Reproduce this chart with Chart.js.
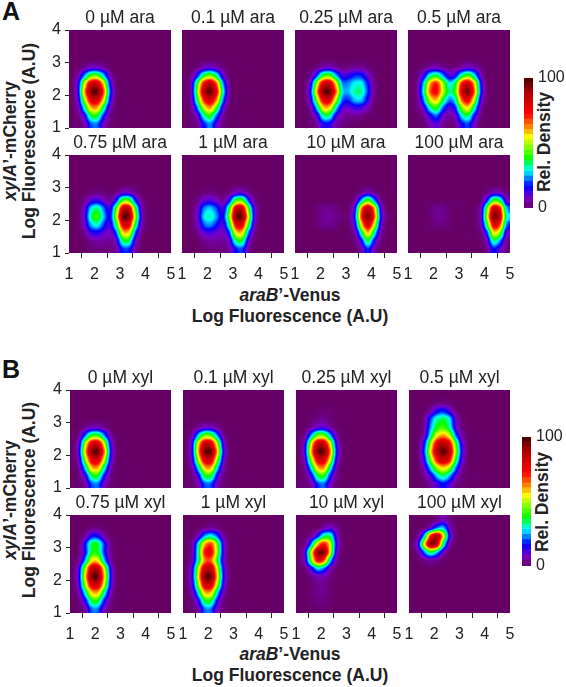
<!DOCTYPE html>
<html>
<head>
<meta charset="utf-8">
<title>Density maps</title>
<script src="https://cdn.jsdelivr.net/npm/chart.js@4"></script>
<style>
  html, body { margin: 0; padding: 0; background: #fff; overflow: hidden; }
  #page { position: relative; width: 566px; height: 687px; overflow: hidden; font-family: "Liberation Sans", Arial, sans-serif; color: #222; }
  canvas { position: absolute; }
  .lab { position: absolute; font-weight: bold; font-size: 17.5px; white-space: nowrap; transform: translate(-50%, -50%); line-height: 1; }
  .rot { transform: translate(-50%, -50%) rotate(-90deg); }
  .letter { position: absolute; left: 2px; font-weight: bold; font-size: 25px; line-height: 1; color: #111; }
</style>
</head>
<body>
<div id="page">
  <div class="letter" style="top:-1px">A</div>
  <div class="letter" style="top:357px">B</div>

  <div class="lab rot" style="left:11px;top:141px"><i>xylA</i>’-mCherry</div>
  <div class="lab rot" style="left:30px;top:141px">Log Fluorescence (A.U)</div>
  <div class="lab" style="left:290px;top:296px"><i>araB</i>’-Venus</div>
  <div class="lab" style="left:290px;top:317px">Log Fluorescence (A.U)</div>
  <div class="lab rot" style="left:545px;top:142px">Rel. Density</div>

  <div class="lab rot" style="left:11px;top:500px"><i>xylA</i>’-mCherry</div>
  <div class="lab rot" style="left:30px;top:500px">Log Fluorescence (A.U)</div>
  <div class="lab" style="left:290px;top:655px"><i>araB</i>’-Venus</div>
  <div class="lab" style="left:290px;top:676px">Log Fluorescence (A.U)</div>
  <div class="lab rot" style="left:543px;top:502px">Rel. Density</div>
</div>

<script>
// Cell centres along araB'-Venus and lower edges along xylA'-mCherry (top row first)
const xBins = [1.125, 1.375, 1.625, 1.875, 2.125, 2.375, 2.625, 2.875, 3.125, 3.375, 3.625, 3.875, 4.125, 4.375, 4.625, 4.875];
const yBins = [3.75, 3.5, 3.25, 3, 2.75, 2.5, 2.25, 2, 1.75, 1.5, 1.25, 1];
const xTicks = [1, 2, 3, 4, 5];
const araTitles = ['0 µM ara', '0.1 µM ara', '0.25 µM ara', '0.5 µM ara', '0.75 µM ara', '1 µM ara', '10 µM ara', '100 µM ara'];
const xylTitles = ['0 µM xyl', '0.1 µM xyl', '0.25 µM xyl', '0.5 µM xyl', '0.75 µM xyl', '1 µM xyl', '10 µM xyl', '100 µM xyl'];

// Relative density, rows top to bottom, missing trailing cells are 0
const ara0 = [[], [], [], [],
  [0,0,2,6,6,3],
  [0,3,22,42,44,26,4],
  [0,9,52,85,88,58,12],
  [0,9,62,97,100,72,16,1],
  [0,6,48,80,84,56,12],
  [0,3,28,60,62,32,5],
  [0,1,10,36,38,14,2],
  [1,1,3,20,22,6,1]];
const ara01 = [[], [], [], [],
  [0,0,1,5,7,5,1],
  [0,1,14,38,46,32,7],
  [0,4,40,78,92,68,22,1],
  [0,3,46,90,100,80,30,1],
  [0,2,36,72,86,64,20,1],
  [0,1,20,52,64,40,8],
  [0,1,6,30,40,18,3],
  [1,1,2,16,24,9,2]];
const ara025 = [[], [], [], [],
  [0,0,0,1,5,6,3,1,2,3,3,1],
  [0,0,2,16,40,44,24,10,13,18,18,8,1],
  [0,0,8,50,85,88,56,20,23,29,30,16,2],
  [0,0,12,62,98,100,68,24,25,33,34,19,2],
  [0,0,8,46,80,82,48,18,17,27,27,13,1],
  [0,0,3,24,58,58,26,9,8,12,11,5],
  [0,0,1,8,32,32,10,4,3,3,2],
  [0,0,1,3,14,14,4,2,1]];
const ara05 = [[], [], [], [],
  [0,0,1,4,5,3,1,1,4,7,5,1],
  [0,1,10,30,38,24,8,12,32,44,28,5],
  [0,2,24,62,76,50,26,34,76,88,60,12],
  [0,2,28,68,78,52,30,38,84,100,68,14],
  [0,1,20,52,62,38,20,26,68,80,50,8],
  [0,1,8,30,42,20,8,14,46,58,30,3],
  [0,0,2,12,22,8,3,6,28,36,12,1],
  [0,0,1,5,10,3,1,2,14,20,6]];
const ara075 = [[], [], [], [],
  [0,0,0,1,2,1,0,1,6,6,2],
  [0,0,2,10,13,7,2,14,44,44,14,2],
  [0,0,7,29,36,22,8,40,88,88,38,4],
  [0,0,8,35,44,26,10,48,100,98,48,5],
  [0,0,7,25,31,18,8,34,80,80,34,3],
  [0,0,2,12,14,9,5,16,58,58,16,1],
  [0,0,0,3,4,4,3,6,36,36,6],
  [0,0,0,1,2,2,2,3,18,18,3]];
const ara1 = [[], [], [], [],
  [0,0,0,1,2,1,0,1,6,7,2],
  [0,0,2,9,11,7,2,12,42,46,16,2],
  [0,0,6,24,28,20,8,36,86,90,42,5],
  [0,0,7,29,32,24,10,44,98,100,52,6],
  [0,0,5,21,24,16,8,30,78,82,38,3],
  [0,0,2,9,11,8,5,14,56,60,18,1],
  [0,0,0,3,4,4,3,6,34,38,7],
  [0,0,0,1,2,2,2,3,16,20,3]];
const ara10 = [[], [], [], [],
  [0,0,0,0,0,0,0,0,0,0,2,6,2],
  [0,0,0,0,0,0,0,0,0,2,24,46,22,1],
  [0,0,0,1,3,3,2,0,0,10,68,92,66,8],
  [0,0,0,2,3,4,3,1,1,14,74,100,72,12,1],
  [0,0,0,1,3,3,2,0,0,9,56,86,54,7],
  [0,0,0,0,0,0,0,0,0,3,30,64,30,3],
  [0,0,0,0,0,0,0,0,0,1,12,40,12,1],
  [0,0,0,0,0,0,0,0,0,0,3,20,4]];
const ara100 = [[], [], [], [],
  [0,0,0,0,0,0,0,0,0,0,0,0,1,6,5,1],
  [0,0,0,0,0,0,0,0,0,0,0,0,14,44,36,6],
  [0,0,0,1,3,3,1,0,0,0,0,3,44,90,78,22],
  [0,0,0,1,3,3,1,0,0,0,0,5,50,100,88,28],
  [0,0,0,1,2,2,1,0,0,0,0,3,36,82,70,18],
  [0,0,0,0,0,0,0,0,0,0,0,1,14,60,48,6],
  [0,0,0,0,0,0,0,0,0,0,0,0,5,36,22,2],
  [0,0,0,0,0,0,0,0,0,0,0,0,2,18,8,1]];

const xyl0 = [[], [], [], [],
  [0,0,2,5,5,3],
  [0,2,20,40,42,22,3],
  [0,7,50,84,86,54,9],
  [0,8,60,97,100,68,13],
  [0,5,46,80,84,52,9],
  [0,2,26,60,62,30,4],
  [0,1,9,36,38,13,2],
  [1,1,3,20,22,6,1]];
const xyl01 = [[], [], [], [],
  [0,0,3,7,6,3],
  [0,3,26,46,44,22,2],
  [0,9,56,88,86,50,7],
  [0,9,62,98,100,62,10],
  [0,6,48,82,84,46,6],
  [0,3,26,60,62,26,3],
  [0,1,10,38,38,11,1],
  [1,1,3,20,20,5,1]];
const xyl025 = [[], [],
  [0,0,0,1,1,1],
  [0,0,1,2,3,1],
  [0,0,3,8,9,4],
  [0,2,24,46,46,24,3],
  [0,8,54,88,88,54,9],
  [0,9,62,98,100,66,13],
  [0,6,46,80,84,52,9],
  [0,3,26,60,64,30,4],
  [0,1,10,36,40,14,2],
  [1,1,3,18,22,6,1]];
const xyl05 = [[],
  [0,0,0,0,1,1,1],
  [0,0,0,4,14,18,10,1],
  [0,0,1,20,33,36,30,6,1],
  [0,0,2,24,38,42,32,8,1],
  [0,0,4,30,54,62,52,18,3],
  [0,0,14,48,82,90,80,40,8],
  [0,0,17,56,90,100,90,46,11],
  [0,0,12,44,74,86,76,36,7],
  [0,0,6,26,48,58,48,20,3],
  [0,0,2,10,26,34,24,7,1],
  [0,0,1,3,10,16,10,2,1]];
const xyl075 = [[],
  [0,0,0,1,1],
  [0,0,3,16,16,4],
  [0,0,16,38,38,18,2],
  [0,0,14,38,38,16,2],
  [0,2,22,56,56,24,3],
  [0,9,50,88,88,54,10],
  [0,10,56,98,100,60,12],
  [0,8,48,82,84,52,9],
  [0,4,28,58,60,30,5],
  [0,1,12,38,38,14,2],
  [0,1,3,22,22,5,1]];
const xyl1 = [[],
  [0,0,0,1,3,2],
  [0,0,5,24,30,20,3],
  [0,2,28,62,72,46,8],
  [0,2,30,76,80,48,8],
  [0,3,30,64,66,38,6],
  [0,8,50,86,88,52,10],
  [0,9,54,98,100,58,12],
  [0,7,44,84,84,48,9],
  [0,3,26,60,60,26,4],
  [0,1,11,38,38,12,1],
  [0,1,3,22,22,5,1]];
const xyl10 = [[],
  [0,0,0,0,4,8,3],
  [0,0,2,12,34,36,8],
  [0,2,20,60,76,54,10],
  [0,8,52,96,100,54,6],
  [0,6,46,80,70,24,2],
  [0,1,10,28,20,5],
  [0,0,2,5,5,2],
  [0,0,1,3,3,1],
  [0,0,1,3,3,1],
  [0,0,1,2,2,1],
  [0,0,0,1,1]];
const xyl100 = [
  [0,0,0,0,2,6,2],
  [0,0,0,4,20,28,6],
  [0,2,22,76,94,60,10],
  [0,8,56,100,90,32,3],
  [0,2,20,38,24,6],
  [0,0,2,4,2],
  [], [], [], [], [], []];

const araPanels = [ara0, ara01, ara025, ara05, ara075, ara1, ara10, ara100];
const xylPanels = [xyl0, xyl01, xyl025, xyl05, xyl075, xyl1, xyl10, xyl100];

// Colour bar levels and colormap
const barLevels = [0, 4, 8, 12, 16, 20, 24, 28, 32, 36, 40, 44, 48, 52, 56, 60, 64, 68, 72, 76, 80, 84, 88, 92, 96];
const mapStops = [0, 7, 16, 28, 37, 54, 62, 72, 88, 100];
const mapColors = ['#660066', '#7a00c8', '#0000ff', '#00ffff', '#00ff00', '#ffff00', '#ff8000', '#ff0000', '#b00000', '#400000'];

const PAD_X = 36, PAD_TOP = 21, PAD_BOTTOM = 30;

function hexToRgb(hex) {
    return [1, 3, 5].map(i => parseInt(hex.slice(i, i + 2), 16));
}

// Lookup table: grey level of a cell -> colormap colour
const lut = [];
for (let g = 0; g < 256; g++) {
    const v = g / 2.55;
    let k = 0;
    while (k < mapStops.length - 2 && v > mapStops[k + 1]) k++;
    const t = Math.min(1, (v - mapStops[k]) / (mapStops[k + 1] - mapStops[k]));
    const a = hexToRgb(mapColors[k]), b = hexToRgb(mapColors[k + 1]);
    lut.push(a.map((c, i) => Math.round(c + (b[i] - c) * t)));
}

function grey(v) {
    const g = Math.round(v * 2.55);
    return `rgb(${g},${g},${g})`;
}

// Cells are drawn as grey levels, then smoothed and coloured inside the plot area
const densityPaint = {
    id: 'densityPaint',
    afterDatasetsDraw(chart, args, opts) {
        const area = chart.chartArea;
        const left = Math.round(area.left), top = Math.round(area.top);
        const w = Math.round(area.right - area.left), h = Math.round(area.bottom - area.top);
        const off = document.createElement('canvas');
        off.width = w;
        off.height = h;
        const octx = off.getContext('2d', { willReadFrequently: true });
        octx.drawImage(chart.canvas, left, top, w, h, 0, 0, w, h);
        if (opts.blur) {
            octx.filter = `blur(${opts.blur}px)`;
            octx.drawImage(chart.canvas, left, top, w, h, 0, 0, w, h);
            octx.filter = 'none';
        }
        const img = octx.getImageData(0, 0, w, h);
        for (let i = 0; i < img.data.length; i += 4) {
            const c = lut[img.data[i]];
            img.data[i] = c[0];
            img.data[i + 1] = c[1];
            img.data[i + 2] = c[2];
            img.data[i + 3] = 255;
        }
        chart.ctx.putImageData(img, left, top);
    }
};

Chart.defaults.font.family = '"Liberation Sans", Arial, sans-serif';
Chart.defaults.color = '#222';
Chart.defaults.animation = false;

function addCanvas(left, top, width, height) {
    const canvas = document.createElement('canvas');
    canvas.width = width;
    canvas.height = height;
    canvas.style.left = left + 'px';
    canvas.style.top = top + 'px';
    document.getElementById('page').appendChild(canvas);
    return canvas;
}

function renderPanel(rows, title, plotLeft, plotTop, plotW, plotH, showY, showX) {
    const canvas = addCanvas(plotLeft - PAD_X, plotTop - PAD_TOP, plotW + PAD_X * 2, plotH + PAD_TOP + PAD_BOTTOM);
    const datasets = yBins.map((low, j) => ({
        data: xBins.map(x => ({ x: x, y: [low, low + 0.25] })),
        backgroundColor: xBins.map((x, i) => grey(rows[j][i] || 0)),
        borderWidth: 0,
        inflateAmount: 0.5,
        grouped: false,
        barPercentage: 1,
        categoryPercentage: 1
    }));
    new Chart(canvas, {
        type: 'bar',
        data: { datasets },
        plugins: [densityPaint],
        options: {
            responsive: false,
            plugins: {
                legend: { display: false },
                tooltip: { enabled: false },
                densityPaint: { blur: 2.6 },
                title: {
                    display: true,
                    text: title,
                    color: '#222',
                    font: { size: 17.5, weight: 'normal', lineHeight: 1 },
                    padding: { top: 0, bottom: 3.5 }
                }
            },
            scales: {
                x: {
                    type: 'linear',
                    offset: false,
                    min: 1,
                    max: 5,
                    afterFit: s => { s.height = PAD_BOTTOM; },
                    afterBuildTicks: s => { s.ticks = xTicks.map(v => ({ value: v })); },
                    border: { display: false },
                    grid: { display: showX, drawOnChartArea: false, drawTicks: true, tickLength: 5, color: '#222' },
                    ticks: { display: showX, padding: 7, maxRotation: 0, autoSkip: false, font: { size: 16 } }
                },
                y: {
                    min: 1,
                    max: 4,
                    afterFit: s => { s.width = PAD_X; },
                    border: { display: false },
                    grid: { display: showY, drawOnChartArea: false, drawTicks: true, tickLength: 4, color: '#222' },
                    ticks: { display: showY, stepSize: 1, padding: 4, font: { size: 16 } }
                },
                // empty axis on the right so the title sits over the middle of the plot
                spacer: {
                    position: 'right',
                    afterFit: s => { s.width = PAD_X; },
                    border: { display: false },
                    grid: { display: false, drawTicks: false },
                    ticks: { display: false }
                }
            }
        }
    });
}

function renderColorBar(left, top, width, height) {
    const canvas = addCanvas(left, top - 10, width + 33, height + 20);
    const datasets = barLevels.map(level => ({
        data: [[level, level + 4]],
        backgroundColor: grey(level + 2),
        borderWidth: 0,
        inflateAmount: 0.5,
        grouped: false,
        barPercentage: 1,
        categoryPercentage: 1
    }));
    new Chart(canvas, {
        type: 'bar',
        data: { labels: [''], datasets },
        plugins: [densityPaint],
        options: {
            responsive: false,
            layout: { padding: { top: 10, bottom: 10 } },
            plugins: { legend: { display: false }, tooltip: { enabled: false }, densityPaint: { blur: 0 } },
            scales: {
                x: { display: false },
                y: {
                    position: 'right',
                    min: 0,
                    max: 100,
                    afterFit: s => { s.width = 33; },
                    border: { display: false },
                    grid: { display: false, drawTicks: false },
                    ticks: { stepSize: 100, padding: 5, font: { size: 16 } }
                }
            }
        }
    });
}

function renderGroup(panels, titles, colLefts, rowTops, plotW, plotH) {
    panels.forEach((rows, n) => {
        const col = n % 4, row = n < 4 ? 0 : 1;
        renderPanel(rows, titles[n], colLefts[col], rowTops[row], plotW, plotH, col === 0, row === 1);
    });
}

renderGroup(araPanels, araTitles, [69, 182, 295, 408], [30, 155], 102, 98);
renderGroup(xylPanels, xylTitles, [70, 183, 296, 409], [390, 515], 101, 98);
renderColorBar(524, 73, 9, 139);
renderColorBar(522, 432, 9, 138);
</script>
</body>
</html>
